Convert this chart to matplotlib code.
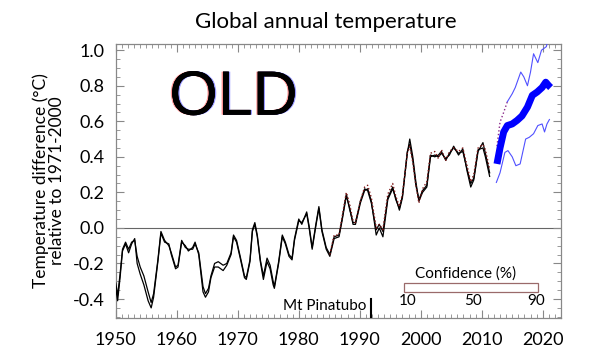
import matplotlib
matplotlib.use("Agg")
import matplotlib.pyplot as plt
import matplotlib.patheffects as pe
from matplotlib.ticker import MultipleLocator

plt.rcParams['font.family'] = ['Lato', 'DejaVu Sans']

years = [1950.0, 1950.3, 1950.7, 1951.1, 1951.6, 1952.1, 1952.6, 1953.1, 1953.5, 1954.0,
         1954.6, 1955.3, 1955.8, 1956.2, 1956.9, 1957.4, 1958.0, 1958.7, 1959.1, 1959.8,
         1960.2, 1960.8, 1961.4, 1961.9, 1962.6, 1963.0, 1963.6, 1964.3, 1964.7, 1965.2,
         1965.6, 1966.2, 1966.8, 1967.6, 1968.2, 1968.9, 1969.3, 1969.8, 1970.4, 1971.1,
         1971.4, 1972.0, 1972.4, 1972.8, 1973.2, 1973.7, 1974.2, 1974.8, 1975.3, 1975.8,
         1976.0, 1976.7, 1977.3, 1977.8, 1978.4, 1978.9, 1979.3, 1980.0, 1980.5, 1981.3,
         1981.7, 1982.2, 1982.8, 1983.3, 1983.8, 1984.5, 1985.1, 1985.8, 1986.6, 1987.1,
         1987.8, 1988.3, 1988.9, 1989.3, 1990.1, 1990.8, 1991.3, 1991.9, 1992.7, 1993.2,
         1993.8, 1994.6, 1995.4, 1995.9, 1996.5, 1997.0, 1997.8, 1998.2, 1998.7, 1999.2,
         1999.7, 2000.3, 2001.0, 2001.6, 2002.3, 2002.9, 2003.4, 2004.1, 2004.7, 2005.4,
         2006.2, 2006.9, 2007.6, 2008.2, 2008.7, 2009.4, 2010.2, 2010.6, 2011.3]
temp_a = [-0.34, -0.41, -0.28, -0.13, -0.09, -0.14, -0.09, -0.06, -0.20, -0.26,
          -0.32, -0.41, -0.45, -0.39, -0.19, -0.03, -0.08, -0.09, -0.15, -0.23,
          -0.22, -0.08, -0.10, -0.13, -0.11, -0.08, -0.15, -0.36, -0.39, -0.36,
          -0.28, -0.22, -0.22, -0.24, -0.21, -0.15, -0.05, -0.08, -0.17, -0.28,
          -0.29, -0.19, -0.02, 0.02, -0.05, -0.19, -0.29, -0.19, -0.23, -0.32,
          -0.34, -0.20, -0.05, -0.09, -0.16, -0.18, -0.07, 0.04, 0.03, 0.08,
          0.00, -0.12, 0.01, 0.11, -0.02, -0.12, -0.16, -0.06, -0.05, 0.04,
          0.18, 0.12, 0.02, 0.02, 0.14, 0.21, 0.22, 0.15, -0.04, 0.00,
          -0.05, 0.16, 0.22, 0.17, 0.10, 0.17, 0.42, 0.50, 0.40, 0.26,
          0.15, 0.20, 0.23, 0.40, 0.41, 0.40, 0.42, 0.39, 0.41, 0.46,
          0.41, 0.445, 0.32, 0.23, 0.27, 0.43, 0.48, 0.42, 0.31]
temp_b = [-0.31, -0.38, -0.26, -0.12, -0.08, -0.12, -0.08, -0.07, -0.16, -0.22,
          -0.27, -0.36, -0.42, -0.37, -0.18, -0.02, -0.07, -0.10, -0.14, -0.22,
          -0.21, -0.07, -0.11, -0.12, -0.12, -0.09, -0.14, -0.33, -0.37, -0.34,
          -0.27, -0.20, -0.19, -0.21, -0.20, -0.14, -0.04, -0.07, -0.16, -0.27,
          -0.28, -0.18, -0.01, 0.03, -0.04, -0.18, -0.27, -0.17, -0.21, -0.30,
          -0.33, -0.19, -0.04, -0.08, -0.15, -0.17, -0.06, 0.05, 0.02, 0.09,
          0.01, -0.11, 0.02, 0.12, -0.01, -0.11, -0.15, -0.05, -0.04, 0.05,
          0.19, 0.11, 0.03, 0.03, 0.15, 0.22, 0.21, 0.14, -0.01, 0.02,
          -0.02, 0.17, 0.23, 0.16, 0.11, 0.18, 0.43, 0.47, 0.38, 0.24,
          0.16, 0.21, 0.24, 0.41, 0.40, 0.41, 0.43, 0.38, 0.42, 0.45,
          0.42, 0.43, 0.33, 0.25, 0.28, 0.44, 0.45, 0.40, 0.29]

# third (dotted, dark red) series from 1985
years_c = [1985.1, 1985.8, 1986.6, 1987.1, 1987.8, 1988.3, 1988.9, 1989.3, 1990.1, 1990.8,
           1991.3, 1991.9, 1992.7, 1993.2, 1993.8, 1994.6, 1995.4, 1995.9, 1996.5, 1997.0,
           1997.8, 1998.2, 1998.7, 1999.2, 1999.7, 2000.3, 2001.0, 2001.6, 2002.3, 2002.9,
           2003.4, 2004.1, 2004.7, 2005.4, 2006.2, 2006.9, 2007.6, 2008.2, 2008.7, 2009.4,
           2010.2, 2010.6, 2011.3]
temp_c = [-0.15, -0.04, -0.04, 0.06, 0.20, 0.14, 0.04, 0.03, 0.15, 0.23,
          0.24, 0.17, 0.00, 0.02, -0.01, 0.19, 0.25, 0.18, 0.12, 0.19,
          0.42, 0.46, 0.37, 0.24, 0.14, 0.22, 0.26, 0.42, 0.43, 0.39,
          0.44, 0.38, 0.43, 0.45, 0.43, 0.45, 0.35, 0.26, 0.30, 0.45,
          0.47, 0.44, 0.33]

# forecast: central estimate and 10% / 90% bounds
fc_years = [2012.5, 2013.0, 2013.6, 2014.2, 2015.0, 2015.8, 2016.6, 2017.5, 2018.3, 2019.1,
            2019.9, 2020.5, 2021.0, 2021.3]
fc_mid = [0.36, 0.45, 0.54, 0.576, 0.585, 0.605, 0.63, 0.68, 0.746, 0.765,
          0.79, 0.82, 0.80, 0.79]
up_years = [2012.5, 2013.0, 2013.6, 2014.2, 2015.0, 2015.5, 2016.4, 2016.9, 2017.5, 2018.0,
            2018.5, 2019.2, 2019.8, 2020.6, 2020.8]
fc_up = [0.46, 0.595, 0.65, 0.71, 0.755, 0.79, 0.877, 0.85, 0.80, 0.877,
         0.98, 0.93, 1.0, 1.02, 1.05]
lo_years = [2012.4, 2013.0, 2013.8, 2014.3, 2015.0, 2015.6, 2016.3, 2017.2, 2017.8, 2018.5,
            2019.2, 2019.9, 2020.3, 2020.7, 2021.1]
fc_lo = [0.256, 0.31, 0.425, 0.435, 0.40, 0.35, 0.36, 0.50, 0.51, 0.53,
         0.576, 0.585, 0.54, 0.585, 0.61]

conf_labels = ['10', '50', '90']

fig = plt.figure(figsize=(6, 3.62), dpi=100)
ax = fig.add_axes([0.193, 0.1215, 0.742, 0.757])

ax.axhline(0, color='#666666', lw=0.8, zorder=1)

ax.plot(years, temp_a, color='black', lw=0.9, zorder=3)
ax.plot(years, temp_b, color='black', lw=0.9, zorder=3)
ax.plot(years_c, temp_c, color='#801818', lw=1.0, ls=':', zorder=4)

ax.plot(up_years[:4], fc_up[:4], color='#8a2a8a', lw=1.0, ls=':', zorder=3)
ax.plot(up_years[3:], fc_up[3:], color='#5050ff', lw=0.8, zorder=3)
ax.plot(lo_years, fc_lo, color='#5050ff', lw=0.8, zorder=3)
ax.plot(fc_years, fc_mid, color='#0000ff', lw=5, solid_capstyle='butt', zorder=5)

ax.set_xlim(1950, 2023)
ax.set_ylim(-0.507, 1.035)

ax.xaxis.set_major_locator(MultipleLocator(10))
ax.xaxis.set_minor_locator(MultipleLocator(1))
ax.yaxis.set_minor_locator(MultipleLocator(0.05))
ax.set_yticks([-0.4, -0.2, 0.0, 0.2, 0.4, 0.6, 0.8, 1.0])
ax.set_yticklabels(['-0.4', '-0.2', '0.0', '0.2', '0.4', '0.6', '0.8', '1.0'])
ax.tick_params(which='both', direction='in', top=True, right=True, color='#888888')
ax.tick_params(which='major', length=6, width=0.8, labelsize=13)
ax.tick_params(which='minor', length=3, width=0.6)
ax.tick_params(axis='x', pad=10)
ax.tick_params(axis='y', pad=8)
for s in ax.spines.values():
    s.set_color('#888888')
    s.set_linewidth(0.9)

# big OLD stamp with faint colour fringes
ax.text(1969.3, 0.73, 'OLD', fontsize=45, family='Liberation Sans', color='black',
        ha='center', va='center', zorder=6,
        path_effects=[pe.withSimplePatchShadow(offset=(-1, 0), shadow_rgbFace='#ff3030', alpha=0.5),
                      pe.withSimplePatchShadow(offset=(1, 0), shadow_rgbFace='#3030ff', alpha=0.5),
                      pe.Normal()])

# Mt Pinatubo marker
ax.plot([1991.9, 1991.9], [-0.507, -0.40], color='black', lw=1.5, zorder=5)
ax.text(1991.1, -0.44, 'Mt Pinatubo', fontsize=11, ha='right', va='center')

# confidence key
ax.add_patch(plt.Rectangle((1997.2, -0.36), 22.0, 0.05, fill=False,
                           edgecolor='#9a6a6a', lw=0.9, zorder=5))
ax.text(2007.4, -0.255, 'Confidence (%)', fontsize=11, ha='center', va='center')
for xpos, lab in zip([1997.9, 2008.5, 2019.0], conf_labels):
    ax.text(xpos, -0.41, lab, fontsize=11, ha='center', va='center')

fig.text(0.543, 0.94, 'Global annual temperature', fontsize=16, ha='center', va='center')
fig.text(0.082, 0.50, 'Temperature difference (\u00b0C)\nrelative to 1971-2000', fontsize=12.5,
         rotation=90, ha='center', va='center', linespacing=1.0)

fig.savefig('out.png', dpi=100)
